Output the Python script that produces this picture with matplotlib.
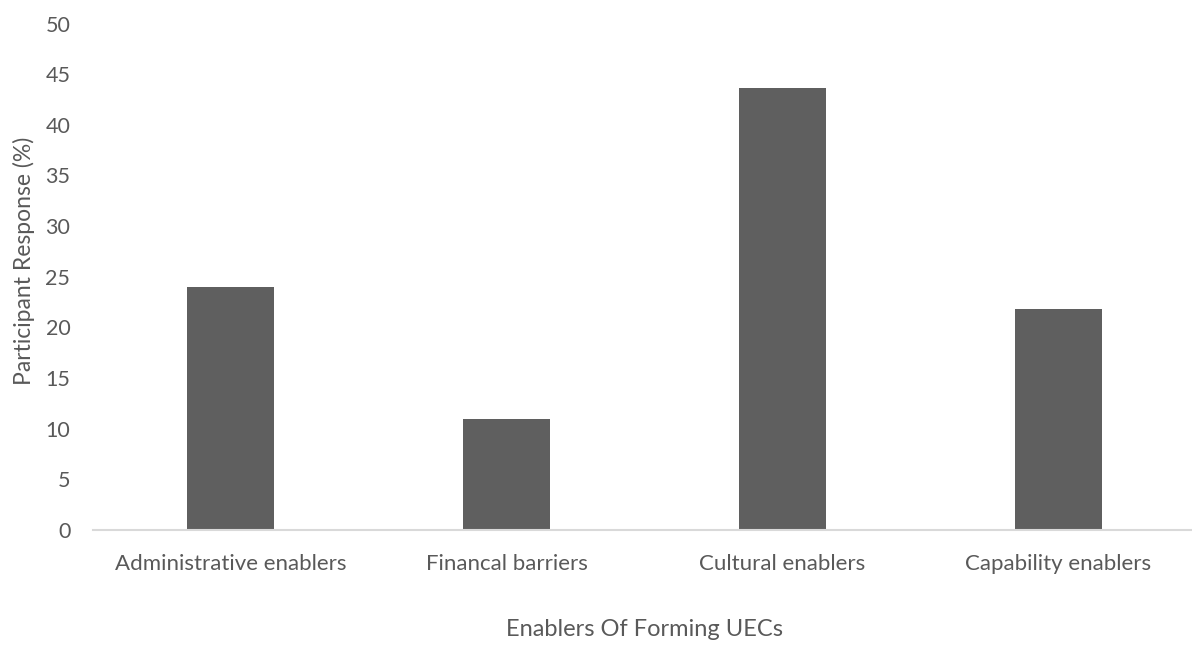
import matplotlib.pyplot as plt

categories = ["Administrative enablers", "Financal barriers", "Cultural enablers", "Capability enablers"]
values = [24.0, 11.0, 43.6, 21.8]
yticks = [0, 5, 10, 15, 20, 25, 30, 35, 40, 45, 50]

plt.rcParams['font.family'] = ['Lato', 'DejaVu Sans']
text_col = '#595959'

fig = plt.figure(figsize=(11.92, 6.46), dpi=100)
ax = fig.add_axes([92.5/1192, 116/646, 1104/1192, (530-23.5)/646])

ax.bar(range(len(values)), values, width=0.315, color='#5f5f5f', zorder=2)

ax.set_xlim(-0.5, 3.5)
ax.set_ylim(0, 50)
ax.set_yticks(yticks)
ax.set_xticks(range(len(categories)))
ax.set_xticklabels(categories)

for s in ['top', 'right', 'left']:
    ax.spines[s].set_visible(False)
ax.spines['bottom'].set_color('#d9d9d9')
ax.spines['bottom'].set_linewidth(1.5)

ax.tick_params(axis='y', length=0, pad=16, labelsize=15.5, labelcolor=text_col)
ax.tick_params(axis='x', length=0, pad=17, labelsize=16, labelcolor=text_col)

ax.set_xlabel("Enablers Of Forming UECs", fontsize=17, color=text_col)
ax.set_ylabel("Participant Response (%)", fontsize=16.5, color=text_col)
ax.xaxis.set_label_coords(0.5, -0.176)
ax.yaxis.set_label_coords(-0.052, 0.531)

fig.savefig('out.png', dpi=100)
